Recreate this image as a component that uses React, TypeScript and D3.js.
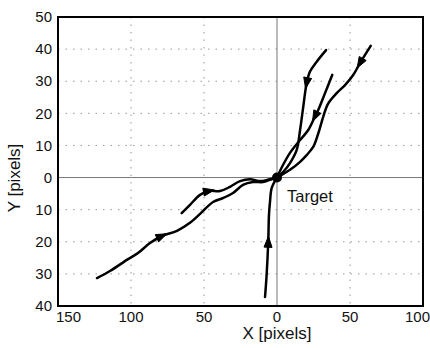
import React from "react";
import * as d3 from "d3";

const xTicks = [-150, -100, -50, 0, 50, 100];
const yTicks = [-40, -30, -20, -10, 0, 10, 20, 30, 40, 50];

// trajectories in data units [x, y], ending at the target (0,0)
const trajA: [number, number][] = [
  [-123.3, -31.3], [-114.4, -29.1], [-102, -25.4], [-95.2, -23.5], [-87, -20.4],
  [-78.8, -18.2], [-68.5, -16.6], [-59.6, -14.1], [-52.7, -11.3], [-43.8, -7.6],
  [-37, -6.4], [-30.1, -4.8], [-23.3, -2.3], [-16.4, -1.4], [-9.6, -1.4], [-4.8, -0.7], [0, 0],
];
const trajB: [number, number][] = [
  [-65.3, -11.1], [-59.6, -8.5], [-52.7, -5.4], [-46.6, -4.2], [-39, -4.2],
  [-32.2, -2.9], [-25.3, -1.1], [-18.5, -0.5], [-11.6, -1.1], [-4.8, -0.5], [0, 0],
];
const trajC: [number, number][] = [
  [-8.2, -37.2], [-7.1, -30.3], [-6, -20], [-5.5, -11.7], [-4.8, -7.6], [-3.6, -3.2], [0, 0],
];
const trajD: [number, number][] = [
  [33.6, 39.7], [27.2, 36.1], [22.6, 33], [20.3, 29.4], [18, 22.1], [15.8, 14.8],
  [13.5, 8.6], [8.9, 4.5], [4.3, 1.8], [0, 0],
];
const trajE: [number, number][] = [
  [37.9, 32], [32.9, 26.3], [28.3, 21.1], [26, 19], [21.4, 14.8], [15.8, 11.7],
  [8.9, 7.7], [4.1, 3.9], [0, 0],
];
const trajF: [number, number][] = [
  [64.2, 41], [60.3, 38.2], [56.8, 35.6], [52.3, 32], [46.6, 28.8], [40.9, 26.3],
  [35.1, 23.1], [31.7, 19], [28.3, 13.8], [24.9, 9.6], [20.3, 7], [15.8, 4.9],
  [8.9, 2.4], [2, 0.5], [0, 0],
];
const trajectories = [trajA, trajB, trajC, trajD, trajE, trajF];
// index of the point carrying the direction arrow on each trajectory
const arrowIndex = [5, 3, 2, 3, 3, 2];

const W = 430;
const H = 348;
const left = 58, right = 423, top = 17, bottom = 306;

export default function App() {
  const x = d3.scaleLinear().domain([-150, 100]).range([left, right]);
  const y = d3.scaleLinear().domain([-40, 50]).range([bottom, top]);
  const line = d3
    .line<[number, number]>()
    .x((d) => x(d[0]))
    .y((d) => y(d[1]))
    .curve(d3.curveCatmullRom.alpha(0.5));

  const font = "'Liberation Sans', Arial, Helvetica, sans-serif";

  const arrows = trajectories.map((t, i) => {
    const k = arrowIndex[i];
    const p0 = t[Math.max(0, k - 1)];
    const p1 = t[Math.min(t.length - 1, k + 1)];
    const cx = x(t[k][0]);
    const cy = y(t[k][1]);
    const ang = Math.atan2(y(p1[1]) - y(p0[1]), x(p1[0]) - x(p0[0]));
    const L = 11, Wd = 4;
    const ca = Math.cos(ang), sa = Math.sin(ang);
    const tip = [cx + ca * L * 0.5, cy + sa * L * 0.5];
    const b = [cx - ca * L * 0.5, cy - sa * L * 0.5];
    const b1 = [b[0] - sa * Wd, b[1] + ca * Wd];
    const b2 = [b[0] + sa * Wd, b[1] - ca * Wd];
    return `M${tip[0]},${tip[1]}L${b1[0]},${b1[1]}L${b2[0]},${b2[1]}Z`;
  });

  return (
    <svg
      width={W}
      height={H}
      style={{ position: "absolute", left: 0, top: 0, background: "#fff" }}
      fontFamily={font}
    >
      <rect x={0} y={0} width={W} height={H} fill="#fff" />
      {/* grid */}
      {xTicks
        .filter((t) => t !== 0 && t !== -150 && t !== 100)
        .map((t) => (
          <line key={"gx" + t} x1={x(t)} x2={x(t)} y1={top} y2={bottom}
            stroke="#999" strokeWidth={1} strokeDasharray="1.5,6" />
        ))}
      {yTicks
        .filter((t) => t !== 0 && t !== -40 && t !== 50)
        .map((t) => (
          <line key={"gy" + t} x1={left} x2={right} y1={y(t)} y2={y(t)}
            stroke="#999" strokeWidth={1} strokeDasharray="1.5,6" />
        ))}
      {/* zero lines */}
      <line x1={x(0)} x2={x(0)} y1={top} y2={bottom} stroke="#777" strokeWidth={1} />
      <line x1={left} x2={right} y1={y(0)} y2={y(0)} stroke="#777" strokeWidth={1} />

      {/* trajectories */}
      {trajectories.map((t, i) => (
        <path key={"t" + i} d={line(t) || ""} fill="none" stroke="#000"
          strokeWidth={2.5} strokeLinejoin="round" strokeLinecap="round" />
      ))}
      {arrows.map((d, i) => (
        <path key={"a" + i} d={d} fill="#000" stroke="#000" strokeWidth={1} />
      ))}
      <circle cx={x(0)} cy={y(0)} r={5} fill="#000" />
      <text x={287} y={202} fontSize={16.5} fill="#111">Target</text>

      {/* frame */}
      <rect x={left} y={top} width={right - left} height={bottom - top}
        fill="none" stroke="#000" strokeWidth={2} />

      {/* tick labels */}
      {xTicks.map((t, i) => {
        const anchor = i === 0 ? "start" : i === xTicks.length - 1 ? "end" : "middle";
        const px = i === 0 ? 56 : i === xTicks.length - 1 ? 430 : x(t);
        return (
          <text key={"xl" + t} x={px} y={322} fontSize={15} textAnchor={anchor} fill="#111">
            {Math.abs(t)}
          </text>
        );
      })}
      {yTicks.map((t) => (
        <text key={"yl" + t} x={52} y={y(t)} dy="0.35em" fontSize={15} textAnchor="end" fill="#111">
          {Math.abs(t)}
        </text>
      ))}
      <text x={277} y={339} fontSize={17} textAnchor="middle" fill="#111">X [pixels]</text>
      <text transform={`translate(20,178) rotate(-90)`} fontSize={17} textAnchor="middle" fill="#111">
        Y [pixels]
      </text>
    </svg>
  );
}
